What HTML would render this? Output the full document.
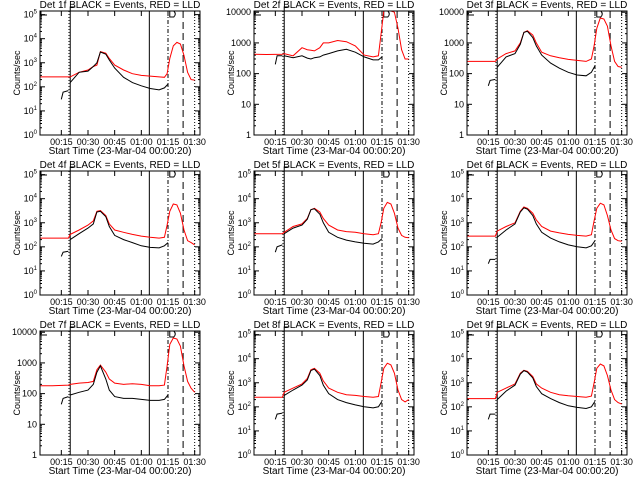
<!DOCTYPE html>
<html><head><meta charset="utf-8"><style>
html,body{margin:0;padding:0;background:#fff;}
svg{display:block;font-family:"Liberation Sans",sans-serif;}
</style></head><body>
<svg id="chart" width="640" height="480" viewBox="0 0 640 480"></svg>
<script>
const redTimes = [3,10,19,20,25,30,33,35,37,40,42,45,50,55,60,65,70,73,74.5,76,78,80,82,84,86,88,90];
const blackTimes = [15,16,19,20,25,30,33,35,37,40,42,45,50,55,60,65,70,73,75];
const detLabels = ["1f","2f","3f","4f","5f","6f","7f","8f","9f"];
const decadeTop = [5,4,4,5,5,5,4,5,5];
const red1 = [260,260,260,260,400,500,700,800,2900,2500,1500,800,500,350,300,280,260,250,350,1500,5000,7000,6000,2000,400,200,190];
const blk1 = [30,60,70,150,400,450,700,1000,2800,2300,1300,600,250,150,110,85,75,90,130];
const red2 = [430,420,430,450,380,700,600,580,550,700,1000,1000,1200,1100,800,400,350,380,2000,15000,20000,20000,10000,3000,600,300,300];
const blk2 = [200,380,380,380,330,380,320,300,330,350,400,450,550,620,500,350,280,280,350];
const red3 = [250,250,250,300,450,550,1000,2200,2500,1800,1000,500,380,330,290,270,250,300,800,3000,6500,6000,3500,800,250,170,160];
const blk3 = [40,60,65,160,350,450,900,2200,2400,1500,800,400,220,150,110,90,85,110,180];
const red4 = [230,230,230,330,500,800,1200,3000,3200,2000,900,500,400,330,280,250,230,250,800,3000,6000,5500,2500,500,180,150,120];
const blk4 = [40,60,65,200,350,600,900,2800,3000,1800,700,300,200,150,110,95,90,110,150];
const red5 = [350,350,350,400,700,900,1500,3500,4000,2800,1500,800,500,430,400,350,320,350,1000,4000,7000,6000,2500,600,300,250,240];
const blk5 = [60,100,120,350,600,800,1400,3500,3800,2300,1000,400,250,190,160,140,130,160,220];
const red6 = [280,280,280,450,700,1000,3000,4500,4000,2500,1300,700,450,380,330,300,280,320,1200,4000,6500,5500,2000,500,220,180,170];
const blk6 = [20,30,30,250,500,900,2800,4200,3700,2000,900,400,230,160,120,100,90,110,180];
const red7 = [180,180,190,200,220,230,250,600,850,500,300,220,200,210,200,180,180,190,800,4000,6500,6000,3500,800,250,150,110];
const blk7 = [45,70,80,90,110,130,200,500,800,300,130,80,70,70,65,60,60,65,90];
const red8 = [250,250,250,400,600,900,1500,3500,4000,2500,1200,600,400,320,300,270,250,270,1000,4000,6500,5500,2500,500,200,160,200];
const blk8 = [30,50,55,300,500,800,1300,3200,3700,2000,800,350,200,150,120,100,90,100,170];
const red9 = [220,220,220,400,600,900,2500,3300,3000,1800,900,600,400,320,290,270,250,280,1000,4000,6000,5000,2000,500,200,150,130];
const blk9 = [30,50,50,200,450,800,2300,3200,2800,1600,700,350,220,150,110,95,85,100,170];
const redSeries = [red1,red2,red3,red4,red5,red6,red7,red8,red9];
const blackSeries = [blk1,blk2,blk3,blk4,blk5,blk6,blk7,blk8,blk9];
const xTickMinutes = [15,30,45,60,75,90];
const xTickLabels = ["00:15","00:30","00:45","01:00","01:15","01:30"];
const markerSolid = [20,64.5];
const markerDashDot = 75, markerDashed = 83.5, markerDotted = 90;

const NS="http://www.w3.org/2000/svg";
const svg=document.getElementById('chart');
function mk(tag,attrs,parent){const e=document.createElementNS(NS,tag);for(const k in attrs)e.setAttribute(k,attrs[k]);(parent||svg).appendChild(e);return e;}
const colLeft=[40,254,467], rowTop=[11,171,331], W=160, H=124, T0=3, T1=93;

for(let p=0;p<9;p++){
  const L=colLeft[p%3], Tp=rowTop[Math.floor(p/3)];
  const topExp = decadeTop[p]===5 ? 5.15 : 4.04;
  const xs=m=>L+(m-T0)/(T1-T0)*W;
  const ys=v=>{let lv=Math.log10(Math.max(v,1));lv=Math.min(lv,topExp);return Tp+H-lv/topExp*H;};
  const g=mk('g',{});
  
  
  const t=mk('text',{x:L+80,y:Tp-3,'text-anchor':'middle','font-size':'10'},g);
  t.textContent='Det '+detLabels[p]+' BLACK = Events, RED = LLD';
  
  
  // y ticks
  for(let d=0;d<=decadeTop[p];d++){
    const y=ys(Math.pow(10,d));
    mk('line',{x1:L,x2:L+5,y1:y,y2:y,stroke:'#000','stroke-width':1},g);
    mk('line',{x1:L+W,x2:L+W-5,y1:y,y2:y,stroke:'#000','stroke-width':1},g);
    for(let k=2;k<10;k++){const yy=ys(k*Math.pow(10,d));if(yy<Tp)break;
      mk('line',{x1:L,x2:L+2,y1:yy,y2:yy,stroke:'#000'},g);mk('line',{x1:L+W,x2:L+W-2,y1:yy,y2:yy,stroke:'#000'},g);}
    const lab=mk('text',{x:L-3,y:y+3,'text-anchor':'end','font-size':'9'},g);
    
    
    if(decadeTop[p]===5){lab.textContent='10';const s=mk('tspan',{dy:-4,'font-size':'6'},lab);s.textContent=String(d);}
    else lab.textContent=String(Math.pow(10,d));
  }
  const yl=mk('text',{x:0,y:0,'font-size':'9','text-anchor':'middle',transform:`translate(${L-20},${Tp+H/2}) rotate(-90)`},g);
  yl.textContent='Counts/sec';
  
  
  // x ticks
  xTickMinutes.forEach((m,i)=>{const x=xs(m);
    mk('line',{x1:x,x2:x,y1:Tp+H,y2:Tp+H-5,stroke:'#000'},g);mk('line',{x1:x,x2:x,y1:Tp,y2:Tp+5,stroke:'#000'},g);
    const tl=mk('text',{x:x,y:Tp+H+10,'text-anchor':'middle','font-size':'9'},g);tl.textContent=xTickLabels[i];
    
    });
  const xl=mk('text',{x:L+80,y:Tp+H+19,'text-anchor':'middle','font-size':'10'},g);
  xl.textContent='Start Time (23-Mar-04 00:00:20)';
  
  
  // markers
  markerSolid.forEach(m=>mk('line',{x1:xs(m),x2:xs(m),y1:Tp,y2:Tp+H,stroke:'#000','stroke-width':1},g));
  mk('line',{x1:xs(19.3),x2:xs(19.3),y1:Tp,y2:Tp+H,stroke:'#000','stroke-dasharray':'1,2'},g);
  mk('line',{x1:xs(markerDashDot),x2:xs(markerDashDot),y1:Tp,y2:Tp+H,stroke:'#000','stroke-dasharray':'4,2,1,2'},g);
  mk('line',{x1:xs(markerDashed),x2:xs(markerDashed),y1:Tp,y2:Tp+H,stroke:'#000','stroke-dasharray':'7,4'},g);
  mk('line',{x1:xs(markerDotted),x2:xs(markerDotted),y1:Tp,y2:Tp+H,stroke:'#000','stroke-dasharray':'1,2'},g);
  mk('path',{d:`M${L+1},${Tp+4} h6 M${L+1},${Tp} v4 M${xs(20)},${Tp} v-4 h5 M${xs(76)},${Tp+6} v-6 h4 q3,3 0,6 z`,stroke:'#000',fill:'none'},g);
  // series
  const r=redSeries[p].map((v,i)=>`${xs(redTimes[i]).toFixed(1)},${ys(v).toFixed(1)}`).join(' ');
  const rl=mk('polyline',{points:r,fill:'none',stroke:'#ff0000','stroke-width':1},g);
  
  
  const b1=blackSeries[p].slice(0,3).map((v,i)=>`${xs(blackTimes[i]).toFixed(1)},${ys(v).toFixed(1)}`).join(' ');
  const b2=blackSeries[p].slice(3).map((v,i)=>`${xs(blackTimes[i+3]).toFixed(1)},${ys(v).toFixed(1)}`).join(' ');
  const bl1=mk('polyline',{points:b1,fill:'none',stroke:'#000','stroke-width':1},g);
  
  
  const bl2=mk('polyline',{points:b2,fill:'none',stroke:'#000','stroke-width':1},g);
  
  
  mk('rect',{x:L,y:Tp,width:W,height:H,fill:'none',stroke:'#000','stroke-width':1},g);
}
</script>
</body></html>
